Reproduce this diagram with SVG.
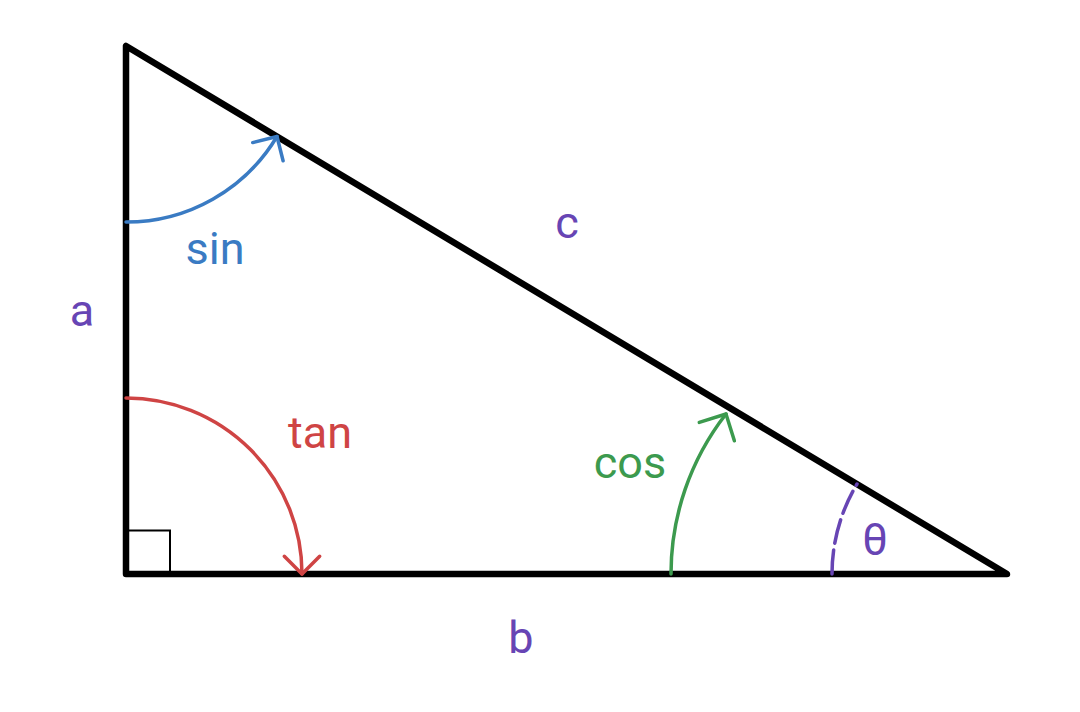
<svg xmlns="http://www.w3.org/2000/svg" width="1080" height="712" viewBox="0 0 1080 712">
<style>
.lbl{font-family:Roboto,"Liberation Sans",sans-serif;font-size:45px;text-anchor:middle}
.purple{fill:#6745b4}
.arc{fill:none;stroke-width:3.5;stroke-linecap:round}
</style>
<defs>
<marker id="ahBlue" markerUnits="userSpaceOnUse" markerWidth="40" markerHeight="40" refX="0" refY="0" viewBox="-25 -20 30 40" orient="auto" overflow="visible">
<path d="M-17.7,-17.7 L0,0 L-17.7,17.7" fill="none" stroke="#3a7bc3" stroke-width="3.5" stroke-linecap="round" stroke-linejoin="round"/>
</marker>
<marker id="ahRed" markerUnits="userSpaceOnUse" markerWidth="40" markerHeight="40" refX="0" refY="0" viewBox="-25 -20 30 40" orient="auto" overflow="visible">
<path d="M-17.7,-17.7 L0,0 L-17.7,17.7" fill="none" stroke="#cf4444" stroke-width="3.5" stroke-linecap="round" stroke-linejoin="round"/>
</marker>
<marker id="ahGreen" markerUnits="userSpaceOnUse" markerWidth="40" markerHeight="40" refX="0" refY="0" viewBox="-25 -20 30 40" orient="-62.4" overflow="visible">
<path d="M-19.8,-19.8 L0,0 L-19.8,19.8" fill="none" stroke="#3c9a4e" stroke-width="3.5" stroke-linecap="round" stroke-linejoin="round"/>
</marker>
</defs>
<rect width="1080" height="712" fill="#ffffff"/>
<g id="triangle">
<path d="M126,46 L126,574 L1007,574 Z" fill="none" stroke="#000" stroke-width="6.5" stroke-linejoin="round"/>
<rect x="126" y="530.5" width="44" height="43.5" fill="none" stroke="#000" stroke-width="2"/>
</g>
<g id="connectors">
<path id="sin-arc" class="arc" stroke="#3a7bc3" d="M126,222 A176,176 0 0 0 277,136.5" marker-end="url(#ahBlue)"/>
<path id="tan-arc" class="arc" stroke="#cf4444" d="M126,398 A176,176 0 0 1 302,574" marker-end="url(#ahRed)"/>
<path id="cos-arc" class="arc" stroke="#3c9a4e" d="M671,574 A260,260 0 0 1 726,414" marker-end="url(#ahGreen)"/>
<path id="theta-arc" class="arc" stroke="#6745b4" stroke-width="3.8" stroke-linecap="butt" stroke-dasharray="24 7" d="M832,574 A175,175 0 0 1 857,484"/>
</g>
<g id="labels">
<text id="lbl-a" class="lbl purple" x="82" y="326">a</text>
<text id="lbl-c" class="lbl purple" x="567" y="238">c</text>
<text id="lbl-b" class="lbl purple" x="521" y="653">b</text>
<text id="lbl-theta" class="lbl purple" x="875" y="555">θ</text>
<text id="lbl-sin" class="lbl" fill="#3a7bc3" x="215" y="264">sin</text>
<text id="lbl-tan" class="lbl" fill="#cf4444" x="320" y="448">tan</text>
<text id="lbl-cos" class="lbl" fill="#3c9a4e" x="630" y="478">cos</text>
</g>
</svg>
